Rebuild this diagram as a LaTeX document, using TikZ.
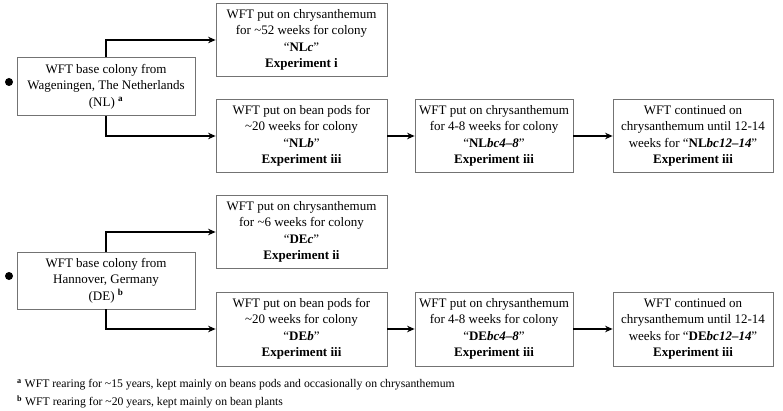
\documentclass[tikz,border=0pt]{standalone}
\usepackage{fontspec}
\setmainfont{Liberation Serif}[BoldFont={Liberation Serif Bold},ItalicFont={Liberation Serif Italic},BoldItalicFont={Liberation Serif Bold Italic}]
\usetikzlibrary{arrows.meta}
\begin{document}
\begin{tikzpicture}[x=1pt,y=-1pt,
  box/.style={draw=black!55,line width=0.8pt,align=center,inner sep=0pt,
    font=\fontsize{13}{16.5}\selectfont},
  conn/.style={line width=2pt,-{Stealth[length=7.5pt,width=6.5pt]}},
  foot/.style={anchor=west,inner sep=0pt,font=\fontsize{11.7}{13}\selectfont}]
\useasboundingbox (0,0) rectangle (783,411);
% top group
\node[box,minimum width=178pt,minimum height=58pt] (NL) at (106,86.5)
  {WFT base colony from\\Wageningen, The Netherlands\\(NL) \textsuperscript{\textbf{a}}};
\node[box,minimum width=171pt,minimum height=73pt] (NLc) at (301.5,40)
  {WFT put on chrysanthemum\\for \textasciitilde52 weeks for colony\\``\textbf{NL\textit{c}}''\\\textbf{Experiment i}};
\node[box,minimum width=171pt,minimum height=73pt] (NLb) at (301.5,136)
  {WFT put on bean pods for\\\textasciitilde20 weeks for colony\\``\textbf{NL\textit{b}}''\\\textbf{Experiment iii}};
\node[box,minimum width=158pt,minimum height=73pt] (NLbc48) at (494,136)
  {WFT put on chrysanthemum\\for 4-8 weeks for colony\\``\textbf{NL\textit{bc4--8}}''\\\textbf{Experiment iii}};
\node[box,minimum width=160pt,minimum height=73pt] (NLbc1214) at (693,136)
  {WFT continued on\\chrysanthemum until 12-14\\weeks for ``\textbf{NL\textit{bc12--14}}''\\\textbf{Experiment iii}};
\node[circle,fill=black,inner sep=0pt,minimum size=8pt] (b1) at (9,82) {};
\draw[conn] (NL.north) |- (NLc.west);
\draw[conn] (NL.south) |- (NLb.west);
\draw[conn] (NLb) -- (NLbc48);
\draw[conn] (NLbc48) -- (NLbc1214);
% bottom group
\node[box,minimum width=178pt,minimum height=57pt] (DE) at (106,280.5)
  {WFT base colony from\\Hannover, Germany\\(DE) \textsuperscript{\textbf{b}}};
\node[box,minimum width=171pt,minimum height=73pt] (DEc) at (301.5,232)
  {WFT put on chrysanthemum\\for \textasciitilde6 weeks for colony\\``\textbf{DE\textit{c}}''\\\textbf{Experiment ii}};
\node[box,minimum width=171pt,minimum height=74pt] (DEb) at (301.5,329)
  {WFT put on bean pods for\\\textasciitilde20 weeks for colony\\``\textbf{DE\textit{b}}''\\\textbf{Experiment iii}};
\node[box,minimum width=158pt,minimum height=74pt] (DEbc48) at (494,329)
  {WFT put on chrysanthemum\\for 4-8 weeks for colony\\``\textbf{DE\textit{bc4--8}}''\\\textbf{Experiment iii}};
\node[box,minimum width=160pt,minimum height=74pt] (DEbc1214) at (693,329)
  {WFT continued on\\chrysanthemum until 12-14\\weeks for ``\textbf{DE\textit{bc12--14}}''\\\textbf{Experiment iii}};
\node[circle,fill=black,inner sep=0pt,minimum size=8pt] (b2) at (9,276) {};
\draw[conn] (DE.north) |- (DEc.west);
\draw[conn] (DE.south) |- (DEb.west);
\draw[conn] (DEb) -- (DEbc48);
\draw[conn] (DEbc48) -- (DEbc1214);
% footnotes
\node[foot] (fa) at (17,385) {\textsuperscript{\textbf{a}} WFT rearing for \textasciitilde15 years, kept mainly on beans pods and occasionally on chrysanthemum};
\node[foot] (fb) at (17,402) {\textsuperscript{\textbf{b}} WFT rearing for \textasciitilde20 years, kept mainly on bean plants};
\end{tikzpicture}
\end{document}
